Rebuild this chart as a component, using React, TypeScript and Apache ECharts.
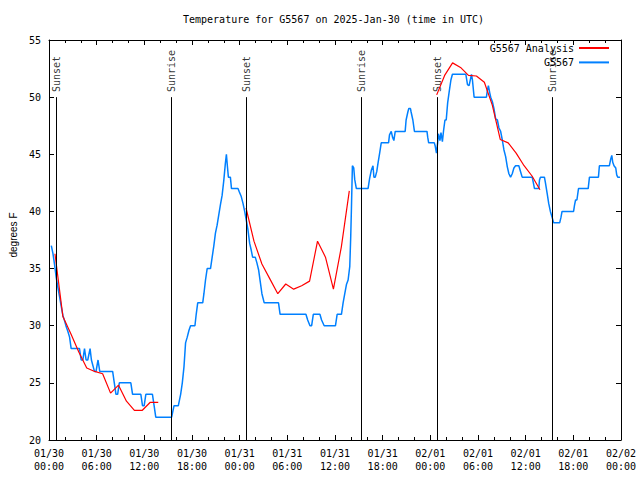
import React, { useEffect, useRef } from "react";
import * as echarts from "echarts";

// Hours since 2025-01-30 00:00 UTC
const xTickLabels = [
  "01/30\n00:00", "01/30\n06:00", "01/30\n12:00", "01/30\n18:00",
  "01/31\n00:00", "01/31\n06:00", "01/31\n12:00", "01/31\n18:00",
  "02/01\n00:00", "02/01\n06:00", "02/01\n12:00", "02/01\n18:00",
  "02/02\n00:00",
];

const sunHours = [0.9, 15.43, 24.83, 39.35, 48.85, 63.38];
const sunLabels = ["Sunset", "Sunrise", "Sunset", "Sunrise", "Sunset", "Sunrise"];

const analysisSeg1: [number, number][] = [
  [0.75, 36.3], [1.75, 30.8], [2.75, 29.3], [3.75, 27.7], [4.75, 26.3], [5.75, 26.0],
  [6.75, 25.8], [7.75, 24.1], [8.75, 24.8], [9.75, 23.4], [10.75, 22.6], [11.75, 22.6],
  [12.75, 23.3], [13.75, 23.3],
];
const analysisSeg2: [number, number][] = [
  [24.8, 40.3], [25.8, 37.4], [26.8, 35.4], [27.8, 34.1], [28.8, 32.8], [29.8, 33.65],
  [30.8, 33.2], [31.8, 33.5], [32.8, 33.9], [33.8, 37.4], [34.8, 36.0], [35.8, 33.2],
  [36.8, 36.9], [37.8, 41.8],
];
const analysisSeg3: [number, number][] = [
  [48.8, 50.2], [49.8, 51.9], [50.8, 53.0], [51.8, 52.6], [52.8, 51.9], [53.8, 51.85],
  [54.8, 51.3], [55.8, 49.3], [56.8, 46.3], [57.8, 46.0], [58.8, 45.1], [59.8, 44.0],
  [60.8, 43.1], [61.8, 41.9],
];

const observed: [number, number][] = [
  [0.29, 37], [0.5, 36.3], [0.71, 35.3], [0.91, 34.2], [1.13, 33.3], [1.34, 32.5], [1.54, 31.7],
  [1.75, 30.9], [1.97, 30.4], [2.17, 29.9], [2.38, 29.5], [2.59, 29], [2.79, 28], [3.84, 28],
  [4.05, 27], [4.26, 27], [4.47, 28], [4.67, 27], [4.88, 27], [5.17, 28], [5.34, 27], [5.72, 26],
  [5.92, 26], [6.17, 27], [6.39, 26], [8.01, 26], [8.22, 25], [8.43, 24], [8.64, 24], [8.85, 25],
  [10.3, 25], [10.52, 24], [11.56, 24], [11.77, 23], [11.98, 23], [12.19, 24], [13.02, 24],
  [13.23, 23], [13.44, 22], [15.44, 22], [15.74, 23], [16.28, 23], [16.57, 24], [16.78, 25],
  [16.99, 26.4], [17.19, 28.5], [17.4, 29], [17.62, 29.6], [17.82, 30], [18.37, 30], [18.53, 31],
  [18.72, 32], [19.35, 32], [19.5, 32.8], [19.7, 34], [19.91, 35], [20.33, 35], [20.54, 36],
  [20.75, 37], [20.95, 38.1], [21.16, 38.8], [21.37, 39.7], [21.58, 40.6], [21.79, 41.4],
  [22.0, 42.7], [22.2, 44.2], [22.33, 45], [22.45, 44], [22.58, 43], [22.83, 43], [22.97, 42],
  [23.79, 42], [23.96, 41.7], [24.2, 41.3], [24.42, 40.7], [24.63, 40], [24.83, 39.25],
  [25.04, 38.4], [25.26, 37.2], [25.46, 36.6], [25.63, 36], [25.96, 36], [26.17, 35.5],
  [26.38, 34.9], [26.59, 33.85], [26.8, 32.8], [27.09, 32], [28.89, 32], [29.09, 31], [32.34, 31],
  [32.56, 30.5], [32.85, 30], [33.06, 30], [33.27, 31], [34.1, 31], [34.31, 30.5], [34.64, 30],
  [36.06, 30], [36.27, 31], [36.81, 31], [37.02, 32], [37.23, 32.8], [37.44, 33.6], [37.65, 34],
  [37.86, 35.2], [37.98, 37.8], [38.07, 40.3], [38.19, 44], [38.36, 43.8], [38.48, 42.8],
  [38.69, 42], [40.16, 42], [40.36, 42.9], [40.57, 43.6], [40.78, 44], [40.9, 43], [41.07, 43],
  [41.26, 43.5], [41.41, 44.2], [41.62, 45.1], [41.82, 46], [42.74, 46], [42.86, 46.7],
  [43.08, 47], [43.24, 46.5], [43.41, 46.2], [43.58, 47], [44.83, 47], [44.95, 48], [45.17, 48.7],
  [45.29, 49], [45.5, 49], [45.58, 48.7], [45.8, 48], [46.0, 47], [47.58, 47], [47.67, 46.5],
  [47.79, 46], [48.5, 46], [48.62, 45.7], [48.77, 45.1], [48.92, 46], [49.02, 46.8], [49.12, 46.5],
  [49.21, 46.2], [49.34, 46.9], [49.52, 46.1], [49.67, 47.1], [49.84, 48], [50.0, 48],
  [50.18, 49.5], [50.38, 50.5], [50.59, 51.5], [50.78, 52], [52.47, 52], [52.68, 51.1],
  [52.88, 51], [53.18, 52], [53.3, 51.5], [53.51, 50], [55.06, 50], [55.18, 50.6], [55.31, 51],
  [55.47, 50.4], [55.6, 50], [55.81, 49.6], [56.01, 49], [56.22, 48.1], [56.44, 48], [56.64, 47.3],
  [56.85, 47], [57.06, 46.25], [57.26, 45.4], [57.48, 44.8], [57.69, 43.9], [57.89, 43.3],
  [58.1, 43], [58.31, 43.3], [58.52, 43.8], [58.73, 44], [59.14, 44], [59.35, 43.5], [59.56, 43],
  [60.82, 43], [60.94, 42.6], [61.11, 42], [61.65, 42], [61.74, 42.75], [61.86, 43], [62.36, 43],
  [62.49, 42.5], [62.7, 41.6], [62.9, 40.7], [63.11, 40], [63.32, 39.5], [63.53, 39], [64.28, 39],
  [64.45, 39.5], [64.58, 40], [66.03, 40], [66.15, 40.56], [66.28, 41], [66.45, 41], [66.65, 42],
  [67.87, 42], [68.03, 43], [69.16, 43], [69.28, 44], [70.54, 44], [70.71, 44.6], [70.84, 44.9],
  [70.96, 44.3], [71.12, 44], [71.34, 43.8], [71.46, 43.2], [71.59, 43], [71.88, 43],
];

const MONO = "DejaVu Sans Mono";

export default function App() {
  const ref = useRef<HTMLDivElement>(null);
  useEffect(() => {
    document.body.style.margin = "0";
    if (!ref.current) return;
    const chart = echarts.init(ref.current, undefined, { renderer: "svg" });
    const black = "#000";
    const tickCommon = {
      axisLine: { show: true, onZero: false, lineStyle: { color: black, width: 1 } },
      axisTick: { show: true, inside: true, length: 5, lineStyle: { color: black } },
      splitLine: { show: false },
    };
    const analysisData: any[] = [
      ...analysisSeg1,
      [19, null],
      ...analysisSeg2,
      [43, null],
      ...analysisSeg3,
    ];
    chart.setOption({
      animation: false,
      backgroundColor: "#fff",
      title: {
        text: "Temperature for G5567 on 2025-Jan-30 (time in UTC)",
        left: 333.5,
        top: 14,
        padding: 0,
        textAlign: "center",
        textStyle: { fontFamily: MONO, fontSize: 10, fontWeight: "normal", color: black },
      },
      legend: {
        data: ["G5567 Analysis", "G5567"],
        orient: "vertical",
        align: "right",
        right: 30,
        top: 43,
        padding: 0,
        itemWidth: 30,
        itemHeight: 10,
        itemGap: 4.4,
        itemStyle: { opacity: 0 },
        textStyle: { fontFamily: MONO, fontSize: 10, color: black },
      },
      grid: { left: 46, right: 19, top: 40, bottom: 40, containLabel: false },
      xAxis: [
        {
          type: "value",
          min: 0,
          max: 72,
          interval: 6,
          position: "bottom",
          ...tickCommon,
          minorTick: { show: true, splitNumber: 3, length: 3, lineStyle: { color: black } },
          axisLabel: {
            formatter: (v: number) => xTickLabels[Math.round(v / 6)] ?? "",
            fontFamily: MONO,
            fontSize: 10,
            color: black,
            lineHeight: 13,
            margin: 7,
          },
        },
        {
          type: "value",
          min: 0,
          max: 72,
          interval: 6,
          position: "top",
          ...tickCommon,
          minorTick: { show: true, splitNumber: 3, length: 3, lineStyle: { color: black } },
          axisLabel: { show: false },
        },
      ],
      yAxis: [
        {
          type: "value",
          min: 20,
          max: 55,
          interval: 5,
          position: "left",
          ...tickCommon,
          axisLabel: { fontFamily: MONO, fontSize: 10, color: black, margin: 8 },
          name: "degrees F",
          nameLocation: "middle",
          nameRotate: 90,
          nameGap: 31,
          nameTextStyle: {
            fontFamily: "Liberation Sans",
            fontSize: 10,
            color: black,
            padding: [0, 0, 0, 10],
          },
        },
        {
          type: "value",
          min: 20,
          max: 55,
          interval: 5,
          position: "right",
          ...tickCommon,
          axisLabel: { show: false },
        },
      ],
      series: [
        {
          name: "sun",
          type: "scatter",
          symbolSize: 1,
          itemStyle: { color: "rgba(0,0,0,0)" },
          silent: true,
          data: sunHours.map((h, i) => ({ value: [h, 50.45], name: sunLabels[i] })),
          label: {
            show: true,
            formatter: "{b}",
            position: "inside",
            rotate: 90,
            align: "left",
            verticalAlign: "middle",
            fontFamily: MONO,
            fontSize: 10,
            color: black,
          },
          markLine: {
            silent: true,
            symbol: "none",
            label: { show: false },
            lineStyle: { color: black, width: 1, type: "solid" },
            data: sunHours.map((h) => [{ coord: [h, 20] }, { coord: [h, 50] }]),
          },
          z: 1,
        },
        {
          name: "G5567 Analysis",
          type: "line",
          data: analysisData,
          symbol: "none",
          connectNulls: false,
          lineStyle: { color: "#ff0000", width: 1.2 },
          itemStyle: { color: "#ff0000" },
          z: 3,
        },
        {
          name: "G5567",
          type: "line",
          data: observed,
          symbol: "none",
          lineStyle: { color: "#0080ff", width: 1.5 },
          itemStyle: { color: "#0080ff" },
          z: 2,
        },
      ],
    });
    return () => chart.dispose();
  }, []);
  return <div ref={ref} style={{ width: 640, height: 480 }} />;
}
